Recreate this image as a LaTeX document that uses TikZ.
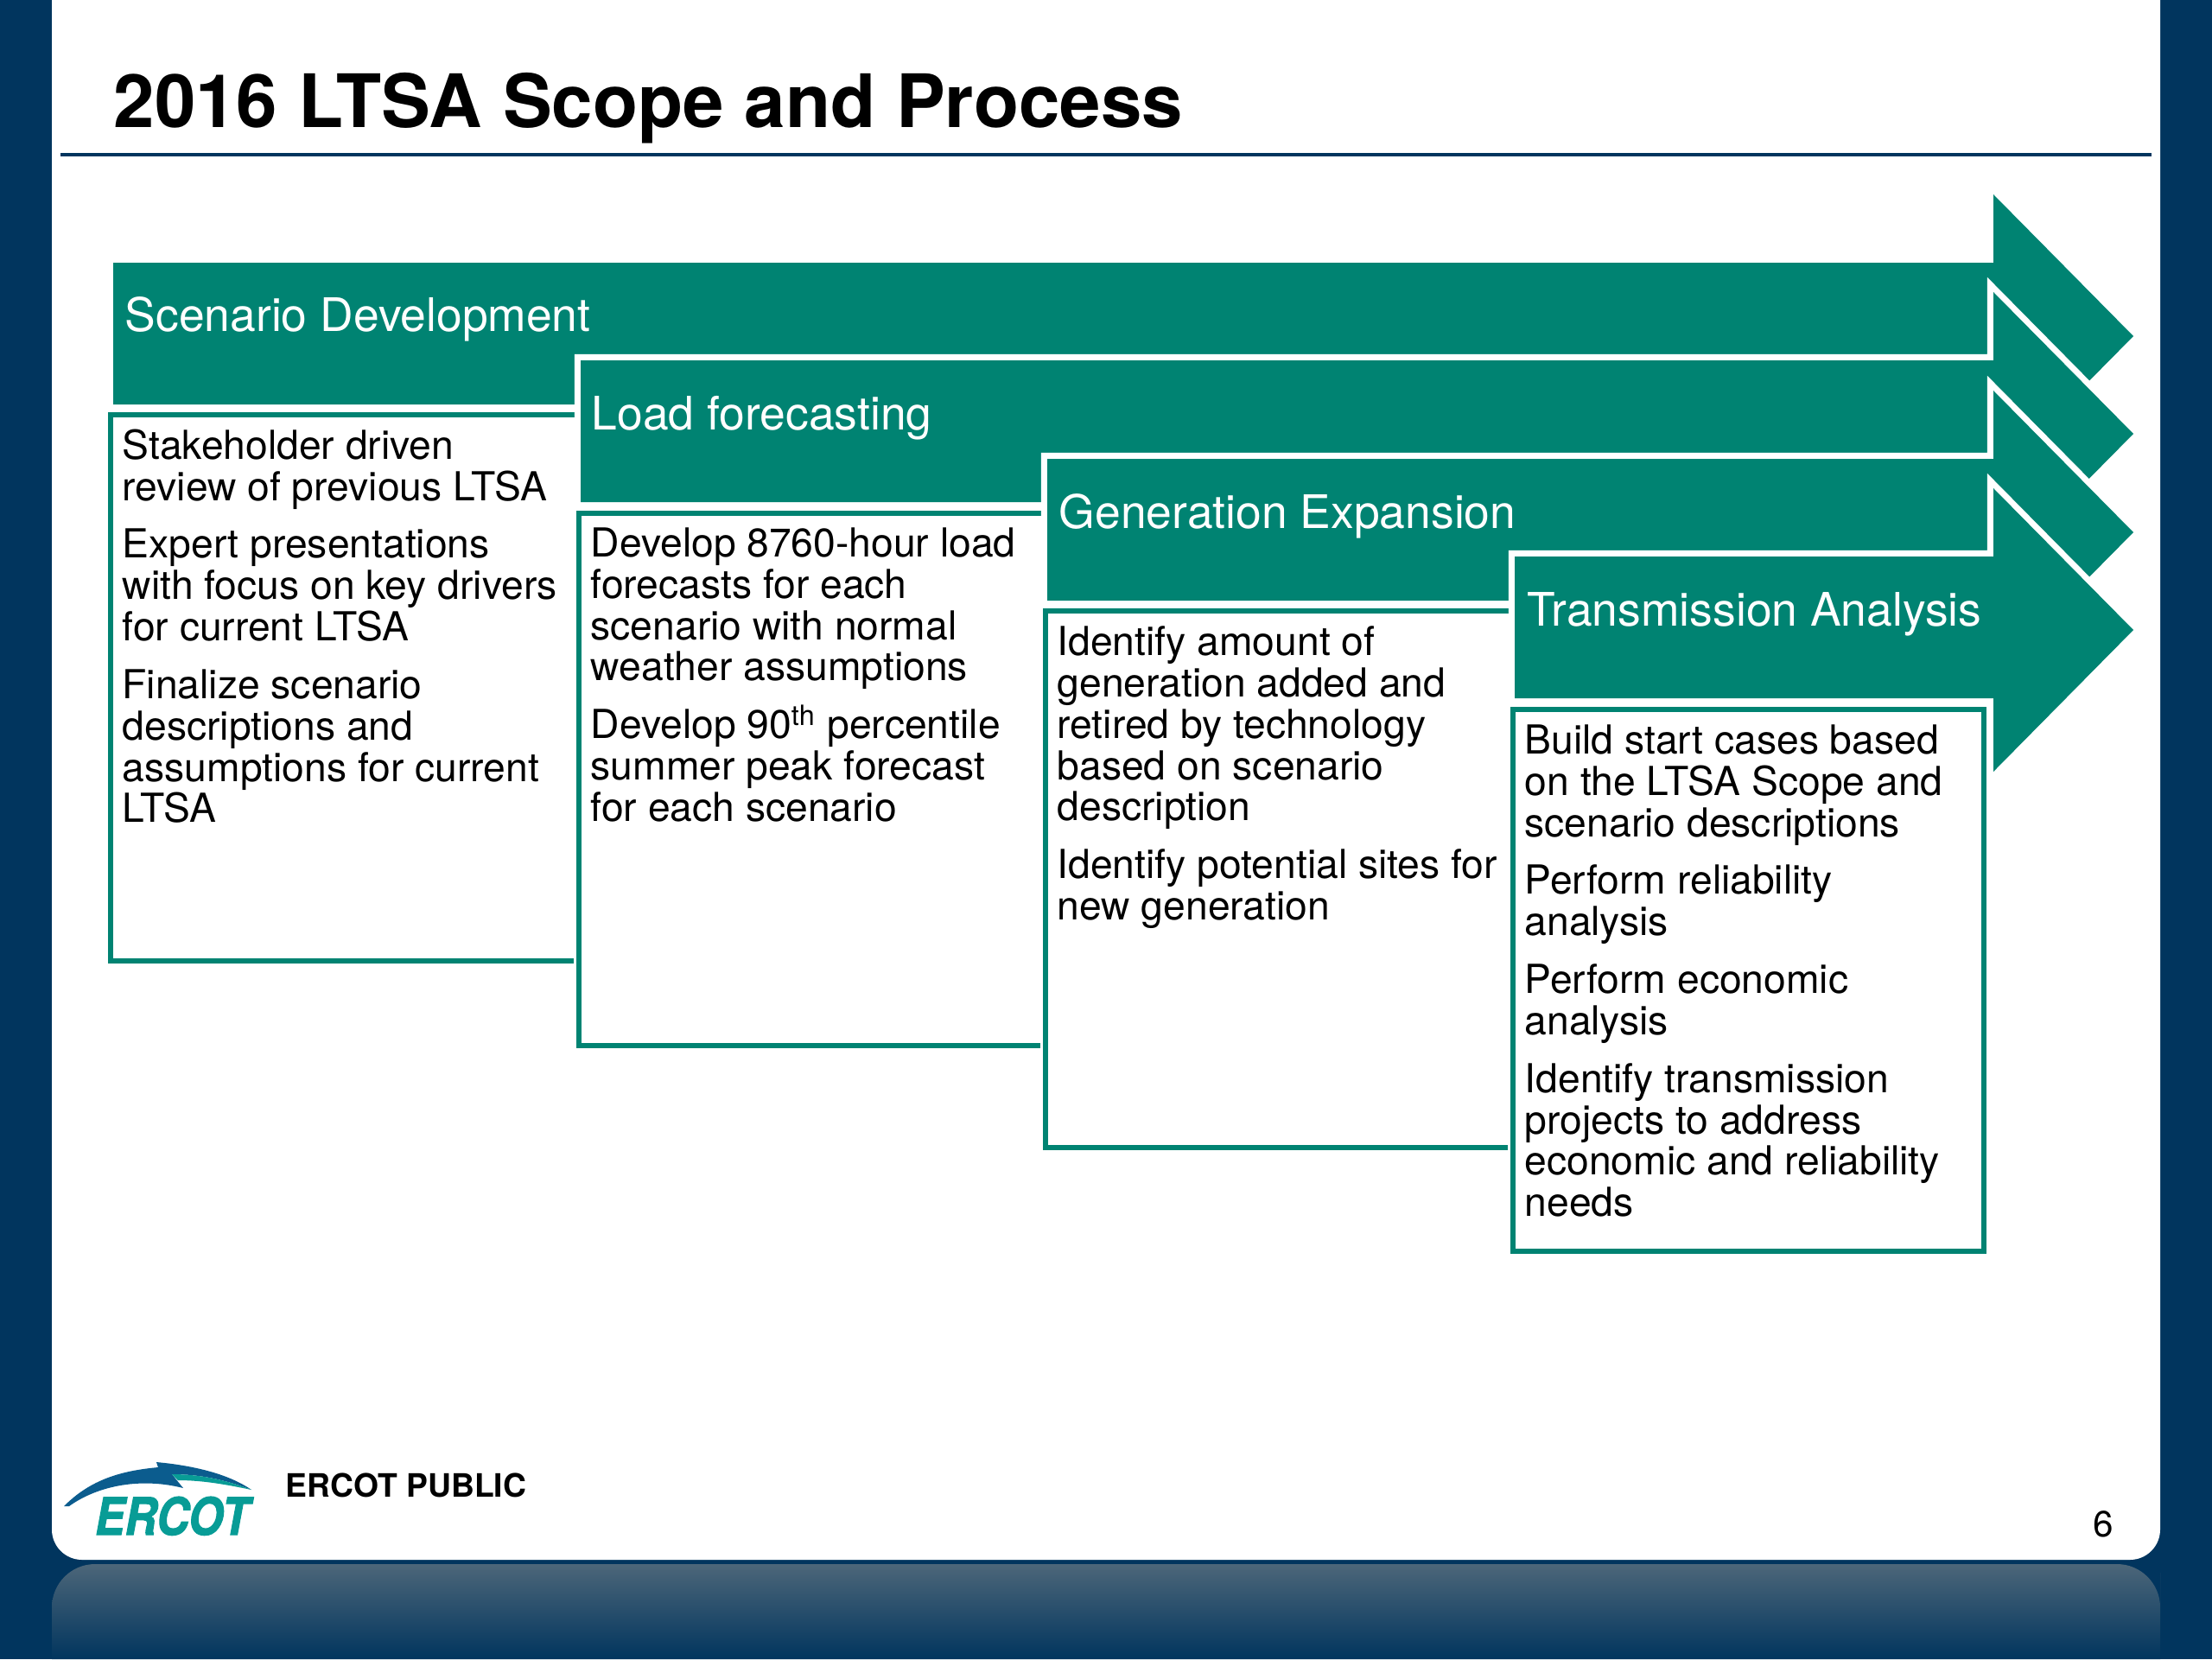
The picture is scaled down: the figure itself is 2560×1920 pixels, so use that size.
\documentclass[tikz,border=0pt]{standalone}
\usepackage{graphicx}
\usepackage{fontspec}
\setmainfont{TeX Gyre Heros}
\newfontfamily\logofont{TeX Gyre Heros}[BoldItalicFeatures={FakeBold=2}]
\definecolor{navy}{HTML}{01355E}
\definecolor{bandtop}{HTML}{4C6679}
\definecolor{bandmid}{HTML}{143E60}
\definecolor{teal}{HTML}{008372}
\definecolor{logoblue}{HTML}{0B5C8E}
\definecolor{logoteal}{HTML}{089C96}
\newcommand{\bodyfont}{\fontsize{13.15}{13.6}\selectfont}
\newcommand{\headfont}{\fontsize{15.2}{17}\selectfont}
\newcommand{\chevpath}[2]{(#1,#2-85) -- (2307,#2-85) -- (2307,#2-164) -- (2469,#2) -- (2307,#2+164) -- (2307,#2+79) -- (#1,#2+79) -- cycle}
\newcommand{\chevron}[2]{%
  \draw[arrowhalo] \chevpath{#1}{#2};
  \fill[arrowfill] \chevpath{#1}{#2};}
\tikzset{
  arrowhalo/.style={draw=white,line width=4pt,miter limit=10},
  arrowfill/.style={fill=teal,draw=none},
  whitegap/.style={draw=white,line width=3.6pt},
  textbox/.style={draw=teal,fill=white,line width=1.5pt},
  headtext/.style={anchor=north west,inner sep=0pt,text=white,font=\headfont,align=left},
  bodytext/.style={anchor=north west,inner sep=0pt,text=black,font=\bodyfont,align=left},
}
\begin{document}
\begin{tikzpicture}[x=0.01cm,y=-0.01cm]
\useasboundingbox (0,0) rectangle (2560,1920);
\fill[navy] (0,0) rectangle (2560,1920);
% lower band
\shade[top color=bandtop,middle color=bandmid,bottom color=navy]
  (60,1920) -- (60,1870) [rounded corners=0.5cm] -- (60,1810) -- (2500,1810) -- (2500,1870) [sharp corners] -- (2500,1920) -- cycle;
% white panel
\fill[white] (60,0) [rounded corners=0.35cm] -- (60,1805) -- (2500,1805) [sharp corners] -- (2500,0) -- cycle;
% title
\node[anchor=base west,inner sep=0pt,font=\bfseries\fontsize{24.25}{28}\selectfont] (title) at (131,147) {2016 LTSA Scope and Process};
\draw[navy,line width=0.9pt] (70,179) -- (2490,179);
% arrow 1
\fill[arrowfill] \chevpath{131}{389};
\node[headtext] (h1) at (144,343) {Scenario Development};
\draw[whitegap] (128,480) rectangle (670,1112);
\filldraw[textbox] (128,480) rectangle (670,1112);
\node[bodytext] (b1) at (141,496) {Stakeholder driven\\review of previous LTSA\\[5.4pt]Expert presentations\\with focus on key drivers\\for current LTSA\\[5.4pt]Finalize scenario\\descriptions and\\assumptions for current\\LTSA};
% arrow 2
\chevron{672}{502}
\node[headtext] (h2) at (684,458) {Load forecasting};
\draw[whitegap] (670,594) rectangle (1208,1210);
\filldraw[textbox] (670,594) rectangle (1208,1210);
\node[bodytext] (b2) at (683,610) {Develop 8760-hour load\\forecasts for each\\scenario with normal\\weather assumptions\\[5.4pt]Develop 90\smash{\textsuperscript{th}} percentile\\summer peak forecast\\for each scenario};
% arrow 3
\chevron{1212}{616}
\node[headtext] (h3) at (1225,571) {Generation Expansion};
\draw[whitegap] (1210,707) rectangle (1750,1328);
\filldraw[textbox] (1210,707) rectangle (1750,1328);
\node[bodytext] (b3) at (1223,724) {Identify amount of\\generation added and\\retired by technology\\based on scenario\\description\\[5.4pt]Identify potential sites for\\new generation};
% arrow 4
\chevron{1753}{729}
\node[headtext] (h4) at (1767,685) {Transmission Analysis};
\draw[whitegap] (1751,821) rectangle (2296,1448);
\filldraw[textbox] (1751,821) rectangle (2296,1448);
\node[bodytext] (b4) at (1764,838) {Build start cases based\\on the LTSA Scope and\\scenario descriptions\\[5.4pt]Perform reliability\\analysis\\[5.4pt]Perform economic\\analysis\\[5.4pt]Identify transmission\\projects to address\\economic and reliability\\needs};
% footer
\fill[logoblue] (74,1743) .. controls (105,1712) and (140,1702) .. (183,1698) -- (181,1692) .. controls (225,1696) and (265,1706) .. (291,1724) .. controls (265,1714) and (235,1706) .. (199,1706) -- (212,1722) .. controls (165,1710) and (115,1718) .. (80,1743) -- cycle;
\fill[logoteal] (199,1706) .. controls (235,1706) and (265,1714) .. (291,1724) .. controls (262,1718) and (235,1713) .. (206,1713) -- cycle;
\node[anchor=base east,inner sep=0pt,text=logoteal,font=\logofont\bfseries\itshape\fontsize{14.7}{15}\selectfont] (logo) at (289,1776) {\scalebox{1}[1.15]{ERCOT}};
\node[anchor=base west,inner sep=0pt,font=\bfseries\fontsize{10.6}{12}\selectfont] (public) at (330,1732) {ERCOT PUBLIC};
\node[anchor=base east,inner sep=0pt,font=\fontsize{12}{12}\selectfont] (page) at (2447,1778) {6};
\end{tikzpicture}
\end{document}
